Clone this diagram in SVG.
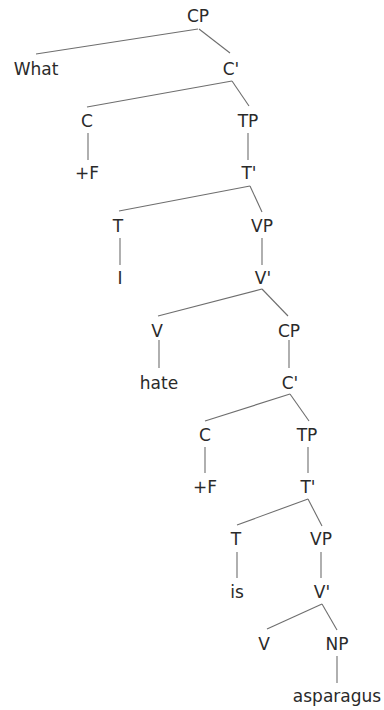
<svg xmlns="http://www.w3.org/2000/svg" width="384" height="710" viewBox="0 0 384 710">
<style>
text{font-family:"DejaVu Sans","Noto Sans",sans-serif;font-size:17px;fill:#2a2a2a;text-anchor:middle}
.e line{stroke:#6e6e6e;stroke-width:1.1}
</style>
<rect width="384" height="710" fill="#fff"/>
<g class="e" id="connectors">
<line x1="198" y1="29" x2="36" y2="54"/>
<line x1="199" y1="29" x2="230" y2="53"/>
<line x1="232" y1="81" x2="87" y2="107"/>
<line x1="232" y1="81" x2="249" y2="106"/>
<line x1="88" y1="133" x2="88" y2="160"/>
<line x1="248" y1="133" x2="248" y2="160"/>
<line x1="250" y1="186" x2="119" y2="211"/>
<line x1="250" y1="186" x2="262" y2="212"/>
<line x1="120" y1="238" x2="120" y2="265"/>
<line x1="262" y1="238" x2="262" y2="265"/>
<line x1="262" y1="289" x2="158" y2="316"/>
<line x1="262" y1="289" x2="288" y2="316"/>
<line x1="159" y1="340" x2="159" y2="368"/>
<line x1="289" y1="340" x2="289" y2="368"/>
<line x1="290" y1="394" x2="205" y2="421"/>
<line x1="290" y1="394" x2="309" y2="421"/>
<line x1="205" y1="447" x2="205" y2="473"/>
<line x1="308" y1="447" x2="308" y2="473"/>
<line x1="308" y1="499" x2="237" y2="525"/>
<line x1="308" y1="499" x2="322" y2="526"/>
<line x1="237" y1="552" x2="237" y2="578"/>
<line x1="321" y1="552" x2="321" y2="578"/>
<line x1="322" y1="604" x2="267" y2="629"/>
<line x1="322" y1="604" x2="337" y2="630"/>
<line x1="337" y1="656" x2="337" y2="683"/>
</g>
<g id="n-cp1"><text x="198" y="22">CP</text></g>
<g id="n-what"><text x="36" y="75">What</text></g>
<g id="n-cbar1"><text x="231" y="75">C'</text></g>
<g id="n-c1"><text x="87" y="127">C</text></g>
<g id="n-tp1"><text x="248" y="127">TP</text></g>
<g id="n-f1"><text x="87" y="179">+F</text></g>
<g id="n-tbar1"><text x="249" y="179">T'</text></g>
<g id="n-t1"><text x="118" y="232">T</text></g>
<g id="n-vp1"><text x="262" y="232">VP</text></g>
<g id="n-i"><text x="120" y="284">I</text></g>
<g id="n-vbar1"><text x="263" y="284">V'</text></g>
<g id="n-v1"><text x="157" y="337">V</text></g>
<g id="n-cp2"><text x="289" y="337">CP</text></g>
<g id="n-hate"><text x="159" y="389">hate</text></g>
<g id="n-cbar2"><text x="290" y="389">C'</text></g>
<g id="n-c2"><text x="205" y="441">C</text></g>
<g id="n-tp2"><text x="307" y="441">TP</text></g>
<g id="n-f2"><text x="205" y="493">+F</text></g>
<g id="n-tbar2"><text x="308" y="493">T'</text></g>
<g id="n-t2"><text x="236" y="545">T</text></g>
<g id="n-vp2"><text x="321" y="545">VP</text></g>
<g id="n-is"><text x="237" y="598">is</text></g>
<g id="n-vbar2"><text x="322" y="598">V'</text></g>
<g id="n-v2"><text x="264" y="650">V</text></g>
<g id="n-np"><text x="337" y="650">NP</text></g>
<g id="n-asparagus"><text x="337" y="702">asparagus</text></g>
</svg>
